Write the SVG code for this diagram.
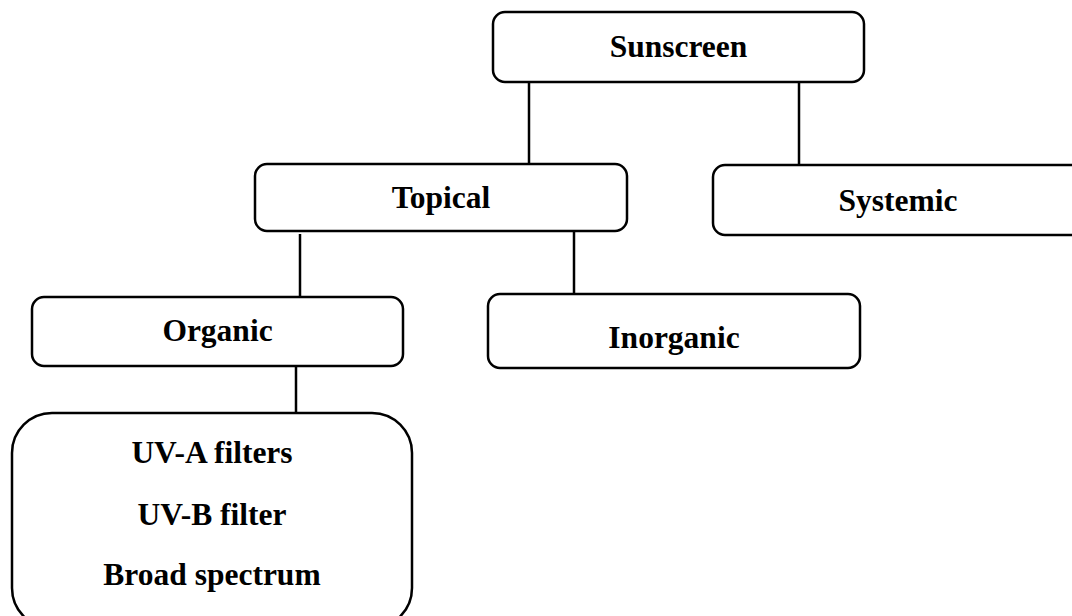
<svg xmlns="http://www.w3.org/2000/svg" width="1072" height="616" viewBox="0 0 1072 616">
<style>
.box{fill:#fff;stroke:#000;stroke-width:2.5}
.lbl{font-family:"Liberation Serif","Times New Roman",serif;font-weight:bold;font-size:31.5px;fill:#000;text-anchor:middle}
.con{stroke:#000;stroke-width:2.5;fill:none}
</style>
<rect width="1072" height="616" fill="#fff"/>
<g id="connectors">
<line class="con" x1="529" y1="82" x2="529" y2="165"/>
<line class="con" x1="799" y1="79" x2="799" y2="168"/>
<line class="con" x1="300" y1="234" x2="300" y2="297"/>
<line class="con" x1="574" y1="231" x2="574" y2="294"/>
<line class="con" x1="296" y1="362" x2="296" y2="413"/>
</g>
<g id="sunscreen">
<rect class="box" x="493" y="12" width="371" height="70" rx="12"/>
<text class="lbl" x="678.5" y="57">Sunscreen</text>
</g>
<g id="topical">
<rect class="box" x="255" y="164" width="372" height="67" rx="12"/>
<text class="lbl" x="441" y="208">Topical</text>
</g>
<g id="systemic">
<rect class="box" x="713" y="165" width="380" height="70" rx="12"/>
<text class="lbl" x="898" y="211">Systemic</text>
</g>
<g id="organic">
<rect class="box" x="32" y="297" width="371" height="69" rx="12"/>
<text class="lbl" x="217.5" y="341">Organic</text>
</g>
<g id="inorganic">
<rect class="box" x="488" y="294" width="372" height="74" rx="12"/>
<text class="lbl" x="674" y="348">Inorganic</text>
</g>
<g id="filters">
<rect class="box" x="12" y="413" width="400" height="215" rx="40"/>
<text class="lbl" x="212" y="463">UV-A filters</text>
<text class="lbl" x="212" y="525">UV-B filter</text>
<text class="lbl" x="212" y="585">Broad spectrum</text>
</g>
</svg>
